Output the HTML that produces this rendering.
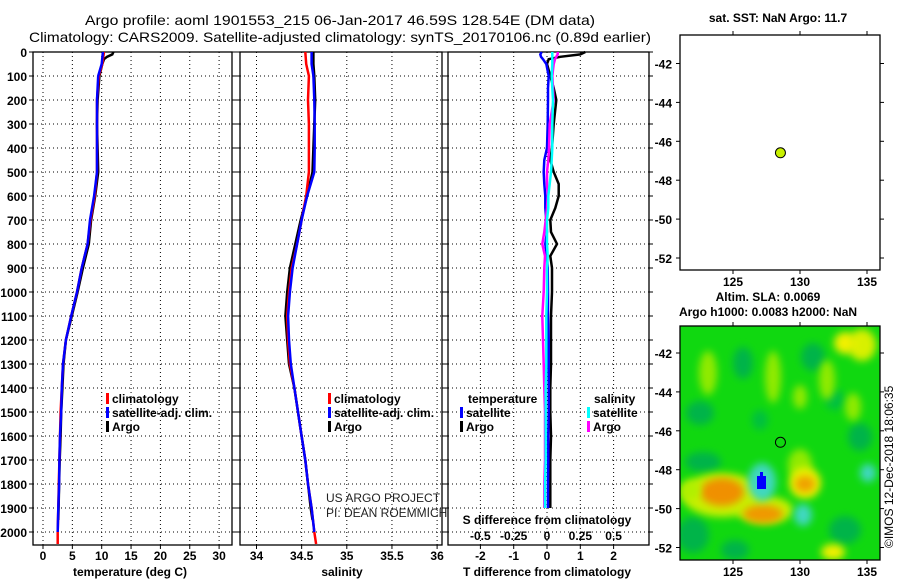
<!DOCTYPE html>
<html><head><meta charset="utf-8"><style>
html,body{margin:0;padding:0;background:#fff;}
svg{display:block;font-family:"Liberation Sans",sans-serif;}
.b{font-weight:bold;font-size:12px;}
</style></head><body>
<svg id="fig" width="900" height="580" viewBox="0 0 900 580" xmlns="http://www.w3.org/2000/svg">
<defs>
<filter id="blur" x="-50%" y="-50%" width="200%" height="200%"><feGaussianBlur stdDeviation="4"/></filter>
<clipPath id="mapclip"><rect x="680" y="326" width="200" height="234"/></clipPath>
</defs>
<rect width="900" height="580" fill="#fff"/>
<text x="340" y="25" text-anchor="middle" font-size="14" textLength="510" lengthAdjust="spacingAndGlyphs">Argo profile: aoml 1901553_215 06-Jan-2017 46.59S 128.54E (DM data)</text>
<text x="340" y="42" text-anchor="middle" font-size="14" textLength="622" lengthAdjust="spacingAndGlyphs">Climatology: CARS2009. Satellite-adjusted climatology: synTS_20170106.nc (0.89d earlier)</text>
<g id="plots"></g>
</svg>
<script>
// ---- profile data ----
const climDepths = [0,50,100,200,300,400,500,600,700,800,900,1000,1100,1200,1300,1400,1500,1600,1700,1800,1900,2000,2050];
const satDepths = [0,50,100,200,300,400,500,600,700,800,900,1000,1100,1200,1300,1400,1500,1600,1700,1800,1900,2000];
const argoDepths = [0,10,20,30,50,100,200,300,400,500,600,700,800,900,1000,1100,1200,1300,1400,1500,1600,1700,1800,1900,1950];
const tempClim = [10.4,10.1,9.5,9.2,9.2,9.2,9.2,8.8,8.1,7.6,6.6,5.8,4.8,3.9,3.4,3.2,3.0,2.9,2.8,2.7,2.6,2.5,2.5];
const tempSat = [10.2,10.0,9.4,9.2,9.2,9.2,9.2,8.7,8.0,7.6,6.6,5.8,4.8,3.9,3.4,3.2,3.1,2.9,2.8,2.75,2.6,2.5];
const tempArgo = [12.0,11.8,10.9,10.4,10.1,9.6,9.3,9.2,9.3,9.4,8.9,8.2,7.8,6.8,5.9,4.9,3.9,3.5,3.3,3.1,3.0,2.85,2.75,2.65,2.6];
const salClim = [34.54,34.55,34.58,34.57,34.58,34.58,34.58,34.55,34.50,34.45,34.39,34.36,34.34,34.35,34.37,34.42,34.46,34.50,34.54,34.57,34.61,34.64,34.66];
const salSat = [34.61,34.61,34.63,34.64,34.645,34.645,34.64,34.56,34.50,34.45,34.40,34.37,34.35,34.36,34.38,34.42,34.46,34.50,34.54,34.57,34.61,34.64];
const salArgo = [34.63,34.63,34.63,34.63,34.63,34.64,34.65,34.64,34.63,34.62,34.56,34.49,34.43,34.37,34.34,34.32,34.34,34.36,34.42,34.46,34.50,34.54,34.57,34.60,34.62];
const diffDepths = [0,10,20,30,50,100,150,200,300,400,450,500,550,600,650,700,750,800,850,900,1000,1100,1200,1300,1400,1500,1600,1700,1800,1900];
const dTArgo = [1.15,1.0,0.4,0.05,0.0,0.1,0.2,0.28,0.2,0.15,0.1,0.2,0.35,0.35,0.25,0.1,0.12,0.3,0.1,0.15,0.15,0.12,0.12,0.12,0.1,0.1,0.12,0.1,0.1,0.1];
const dTSat = [-0.16,-0.2,-0.18,-0.12,-0.02,0.05,0.03,0.03,0.02,0.0,-0.08,-0.1,-0.08,-0.05,-0.05,-0.02,0.0,-0.05,0.0,0.02,0.03,0.03,0.05,0.05,0.05,0.05,0.04,0.04,0.03,0.03];
const dSSat = [0.04,0.04,0.04,0.04,0.04,0.035,0.04,0.045,0.04,0.04,0.035,0.03,0.02,0.01,0.01,0.0,0.0,0.0,0.005,0.0,0.0,-0.005,-0.005,-0.005,-0.01,-0.01,-0.01,-0.01,-0.015,-0.015];
const dSArgo = [0.08,0.08,0.07,0.06,0.05,0.04,0.045,0.05,0.02,0.015,0.01,0.0,0.0,0.005,0.0,-0.01,-0.02,-0.035,-0.015,-0.02,-0.025,-0.035,-0.03,-0.025,-0.02,-0.015,-0.015,-0.015,-0.02,-0.02];
const depthTicks = [0,100,200,300,400,500,600,700,800,900,1000,1100,1200,1300,1400,1500,1600,1700,1800,1900,2000];
const tempTicks = [0,5,10,15,20,25,30];
const salTicks = [34,34.5,35,35.5,36];
const salTickLabels = ["34","34.5","35","35.5","36"];
const dTTicks = [-2,-1,0,1,2];
const dSTicks = [-0.5,-0.25,0,0.25,0.5];
const dSTickLabels = ["-0.5","-0.25","0","0.25","0.5"];
// ---- map data ----
const argoLon = [128.54];
const argoLat = [-46.59];
const lonTicks = [125,130,135];
const latTicks = [-42,-44,-46,-48,-50,-52];

const NS = "http://www.w3.org/2000/svg";
const root = document.getElementById('plots');
function el(tag, attrs, parent, text){
  const e = document.createElementNS(NS, tag);
  for (const k in attrs) e.setAttribute(k, attrs[k]);
  if (text !== undefined) e.textContent = text;
  (parent||root).appendChild(e);
  return e;
}
const yTop = 52, yBot = 545;
function yD(d){ return 52 + d*0.24; }

function panel(name, x0, x1, xScale, ticks, labels){
  const g = el('g', {}, root);
  
  
  // grid
  ticks.forEach(t => {
    const x = xScale(t);
    const l = el('line', {x1:x, x2:x, y1:yTop, y2:yBot, stroke:'#000', 'stroke-width':1, 'stroke-dasharray':'1,3'}, g);
    
    
  });
  depthTicks.forEach(d => {
    const y = yD(d);
    if (d > 0) {
      const l = el('line', {x1:x0, x2:x1, y1:y, y2:y, stroke:'#000', 'stroke-width':1, 'stroke-dasharray':'1,3'}, g);
      
      
    }
    el('line', {x1:x0-4, x2:x0, y1:y, y2:y, stroke:'#000'}, g);
    el('line', {x1:x1, x2:x1+4, y1:y, y2:y, stroke:'#000'}, g);
  });
  ticks.forEach((t,i) => {
    const x = xScale(t);
    el('line', {x1:x, x2:x, y1:yBot, y2:yBot+4, stroke:'#000'}, g);
    if (labels) {
      const tl = el('text', {x:x, y:yBot+15, 'text-anchor':'middle', class:'b'}, g, labels[i]);
      
      
    }
  });
  const r = el('rect', {x:x0, y:yTop, width:x1-x0, height:yBot-yTop, fill:'none', stroke:'#000', 'stroke-width':1.3}, g);
  
  
  return g;
}
function series(g, name, depths, vals, xScale, color, w){
  const pts = depths.map((d,i)=> xScale(vals[i]).toFixed(1)+','+yD(d).toFixed(1)).join(' ');
  const p = el('polyline', {points:pts, fill:'none', stroke:color, 'stroke-width':w||2.5, 'stroke-linejoin':'miter'}, g);
  
  
}
function legendItem(g, name, x, y, color, label, bold){
  const b = el('rect', {x:x, y:y-10, width:3, height:11, fill:color}, g);
  
  
  const t = el('text', {x:x+6, y:y, class:'b'}, g, label);
  
  
}

// Panel 1: temperature
const xT = t => 43 + t*5.87;
const g1 = panel('temperature-panel', 33, 232, xT, tempTicks, tempTicks.map(String));
depthTicks.forEach(d => {
  const t = el('text', {x:27, y:yD(d)+5, 'text-anchor':'end', class:'b'}, root, String(d));
  
  
});
series(g1, 'temperature-argo-line', argoDepths, tempArgo, xT, '#000');
series(g1, 'temperature-climatology-line', climDepths, tempClim, xT, '#f00');
series(g1, 'temperature-satellite-line', satDepths, tempSat, xT, '#00f');
legendItem(g1, 'legend-climatology', 106, 403, '#f00', 'climatology');
legendItem(g1, 'legend-satellite-adj-clim', 106, 417, '#00f', 'satellite-adj. clim.');
legendItem(g1, 'legend-argo', 106, 431, '#000', 'Argo');
let t1 = el('text', {x:130, y:576, 'text-anchor':'middle', class:'b'}, root, 'temperature (deg C)');



// Panel 2: salinity
const xS = s => 256.5 + (s-34)*90.3;
const g2 = panel('salinity-panel', 240, 442, xS, salTicks, salTickLabels);
series(g2, 'salinity-argo-line', argoDepths, salArgo, xS, '#000');
series(g2, 'salinity-climatology-line', climDepths, salClim, xS, '#f00');
series(g2, 'salinity-satellite-line', satDepths, salSat, xS, '#00f');
legendItem(g2, 'legend-climatology', 328, 403, '#f00', 'climatology');
legendItem(g2, 'legend-satellite-adj-clim', 328, 417, '#00f', 'satellite-adj. clim.');
legendItem(g2, 'legend-argo', 328, 431, '#000', 'Argo');
let c1 = el('text', {x:326, y:502, 'font-size':12, fill:'#222'}, root, 'US ARGO PROJECT');


let c2 = el('text', {x:326, y:517, 'font-size':12, fill:'#222'}, root, 'PI: DEAN ROEMMICH');


let t2 = el('text', {x:342, y:576, 'text-anchor':'middle', class:'b'}, root, 'salinity');



// Panel 3: differences
const xdT = v => 547 + v*33.3;
const xdS = v => 547 + v*133.3;
const g3 = panel('difference-panel', 448, 649, xdT, dTTicks, dTTicks.map(String));
dSTicks.forEach((v,i) => {
  const t = el('text', {x:xdS(v), y:540, 'text-anchor':'middle', class:'b'}, g3, dSTickLabels[i]);
  
  
});
series(g3, 'temp-diff-argo-line', diffDepths, dTArgo, xdT, '#000');
series(g3, 'temp-diff-satellite-line', diffDepths, dTSat, xdT, '#00f');
series(g3, 'sal-diff-argo-line', diffDepths, dSArgo, xdS, '#f0f');
series(g3, 'sal-diff-satellite-line', diffDepths, dSSat, xdS, '#0ff');
let lt = el('text', {x:468, y:403, class:'b'}, g3, 'temperature');


let ls = el('text', {x:594, y:403, class:'b'}, g3, 'salinity');


legendItem(g3, 'legend-temp-satellite', 460, 417, '#00f', 'satellite');
legendItem(g3, 'legend-temp-argo', 460, 431, '#000', 'Argo');
legendItem(g3, 'legend-sal-satellite', 587, 417, '#0ff', 'satellite');
legendItem(g3, 'legend-sal-argo', 587, 431, '#f0f', 'Argo');
let sd = el('text', {x:547, y:524, 'text-anchor':'middle', class:'b'}, root, 'S difference from climatology');


let td = el('text', {x:547, y:576, 'text-anchor':'middle', class:'b'}, root, 'T difference from climatology');



// Maps
const lonX = lon => 733 + (lon-125)*13.4;
function mapAxes(name, top, bot, lat42y){
  const latY = lat => lat42y + (-42 - lat)*19.45;
  const g = el('g', {}, root);
  
  
  latTicks.forEach(l => {
    const y = latY(l);
    el('line', {x1:676, x2:680, y1:y, y2:y, stroke:'#000'}, g);
    el('line', {x1:880, x2:884, y1:y, y2:y, stroke:'#000'}, g);
    const t = el('text', {x:672, y:y+5, 'text-anchor':'end', class:'b'}, g, String(l));
    
    
  });
  lonTicks.forEach(l => {
    const x = lonX(l);
    el('line', {x1:x, x2:x, y1:bot, y2:bot+4, stroke:'#000'}, g);
    el('line', {x1:x, x2:x, y1:top-4, y2:top, stroke:'#000'}, g);
    const t = el('text', {x:x, y:bot+16, 'text-anchor':'middle', class:'b'}, g, String(l));
    
    
  });
  return {g, latY};
}
// top SST map
const m1 = mapAxes('sst-map', 35, 270, 63.5);
let mt1 = el('rect', {x:680, y:35, width:200, height:235, fill:'#fff', stroke:'#000', 'stroke-width':1.3}, m1.g);


argoLon.forEach((lon,i) => {
  const c = el('circle', {cx:lonX(lon), cy:m1.latY(argoLat[i]), r:5, fill:'#c8f000', stroke:'#000', 'stroke-width':1}, m1.g);
  
  
});
let st = el('text', {x:778, y:22, 'text-anchor':'middle', class:'b'}, root, 'sat. SST: NaN Argo: 11.7');



// bottom SLA map
const m2 = mapAxes('sla-map', 326, 560, 353);
const hg = el('g', {'clip-path':'url(#mapclip)'}, m2.g);


el('rect', {x:680, y:326, width:200, height:234, fill:'#10d810'}, hg);
const blobs = [
 [700,413,14,12,'#00b448'],[743,363,10,16,'#00b448'],[813,357,12,14,'#00b448'],[703,462,18,10,'#00b448'],
 [860,437,12,14,'#00b448'],[693,535,16,18,'#00b448'],[735,550,14,10,'#00b448'],[845,530,16,14,'#00b448'],
 [760,420,8,10,'#00c040'],[835,400,10,10,'#00c040'],
 [708,373,9,22,'#90ea00'],[773,377,8,26,'#90ea00'],[827,380,8,20,'#90ea00'],[853,407,8,14,'#90ea00'],
 [800,397,7,12,'#90ea00'],[800,465,12,16,'#90ea00'],[862,345,14,16,'#d8f000'],[845,343,11,11,'#f0f000'],
 [722,495,40,22,'#c8f000'],[765,510,28,14,'#c8f000'],[722,492,22,14,'#f09000'],[763,514,20,9,'#f09800'],
 [805,483,16,16,'#e8f000'],[805,484,10,8,'#f0a000'],[833,552,12,8,'#f0f000'],[690,490,10,10,'#b0f000'],
 [762,482,14,19,'#40d8c0'],[803,515,9,11,'#40d8c0'],[868,473,8,9,'#40d8c0']
];
blobs.forEach(b => {
  el('ellipse', {cx:b[0], cy:b[1], rx:b[2], ry:b[3], fill:b[4], filter:'url(#blur)'}, hg);
});
let sq = el('rect', {x:757, y:476, width:9, height:13, fill:'#0000ff'}, hg);


el('rect', {x:760, y:472, width:3, height:5, fill:'#0000ff'}, hg);
let mt2 = el('rect', {x:680, y:326, width:200, height:234, fill:'none', stroke:'#000', 'stroke-width':1.3}, m2.g);


argoLon.forEach((lon,i) => {
  const c = el('circle', {cx:lonX(lon), cy:m2.latY(argoLat[i]), r:5, fill:'none', stroke:'#000', 'stroke-width':1}, m2.g);
  
  
});
let a1 = el('text', {x:768, y:301, 'text-anchor':'middle', class:'b'}, root, 'Altim. SLA: 0.0069');


let a2 = el('text', {x:768, y:316, 'text-anchor':'middle', class:'b'}, root, 'Argo h1000: 0.0083 h2000: NaN');


let cr = el('text', {x:0, y:0, 'font-size':12, transform:'translate(893,548) rotate(-90)'}, root, '©IMOS 12-Dec-2018 18:06:35');


</script>
</body></html>
